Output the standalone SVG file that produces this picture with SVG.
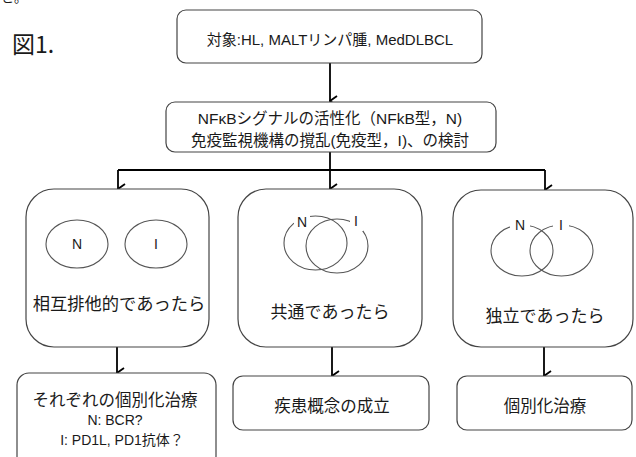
<svg xmlns="http://www.w3.org/2000/svg" width="636" height="457" viewBox="0 0 636 457">
<defs>
<style>
.t{font-family:"Liberation Sans","Noto Sans CJK JP",sans-serif;fill:#1a1a1a;text-anchor:middle}
.j{font-family:"Noto Sans CJK JP",sans-serif;fill:#1a1a1a;text-anchor:middle}
.box{fill:#fff;stroke:#444;stroke-width:1.2}
.el{fill:none;stroke:#555;stroke-width:1.1}
.ln{fill:none;stroke:#000;stroke-width:1.8}
.lb{fill:#fff;stroke:none}
</style>
<marker id="ah" viewBox="0 0 12 12" refX="6" refY="11" markerWidth="12" markerHeight="12" markerUnits="userSpaceOnUse" orient="auto-start-reverse">
<path d="M1,4 L6,11 L11,4" fill="none" stroke="#000" stroke-width="1.8"/>
</marker>
</defs>
<rect width="636" height="457" fill="#fff"/>
<text class="j" x="1" y="2" font-size="13" style="text-anchor:start">と。</text>
<text class="j" x="12" y="53" font-size="23" style="text-anchor:start">図1.</text>

<g id="connectors">
<path class="ln" d="M330,63 V101" marker-end="url(#ah)"/>
<path class="ln" d="M330,152 V170"/>
<path class="ln" d="M118,170 H545"/>
<path class="ln" d="M330,170 V189" marker-end="url(#ah)"/>
<path class="ln" d="M118,170 V189" marker-end="url(#ah)"/>
<path class="ln" d="M545,170 V190" marker-end="url(#ah)"/>
<path class="ln" d="M117,347 V373" marker-end="url(#ah)"/>
<path class="ln" d="M332,347 V376" marker-end="url(#ah)"/>
<path class="ln" d="M544,347 V376" marker-end="url(#ah)"/>
</g>

<g id="target">
<rect class="box" x="177" y="10" width="305" height="53" rx="9"/>
<text class="t" x="330" y="45" font-size="15">対象:HL, MALTリンパ腫, MedDLBCL</text>
</g>

<g id="study">
<rect class="box" x="166" y="102" width="330" height="50" rx="9"/>
<text class="t" x="330" y="124" font-size="15.5">NFκBシグナルの活性化（NFkB型，N)</text>
<text class="t" x="330" y="146" font-size="15.5">免疫監視機構の撹乱(免疫型，I)、の検討</text>
</g>

<g id="exclusive">
<rect class="box" x="26" y="189" width="183" height="158" rx="28"/>
<ellipse class="el" cx="77" cy="244" rx="31" ry="24"/>
<ellipse class="el" cx="156" cy="244" rx="31" ry="24"/>
<text class="t" x="77" y="249" font-size="14">N</text>
<text class="t" x="156" y="249" font-size="14">I</text>
<text class="j" x="119" y="310" font-size="17.3">相互排他的であったら</text>
</g>

<g id="common">
<rect class="box" x="238" y="189" width="184" height="158" rx="28"/>
<ellipse class="el" cx="315.5" cy="243" rx="31.5" ry="27"/>
<ellipse class="el" cx="337" cy="246" rx="31" ry="27"/>
<rect class="lb" x="294" y="213" width="16" height="18"/>
<rect class="lb" x="350" y="212" width="13" height="19"/>
<text class="t" x="302" y="227" font-size="14">N</text>
<text class="t" x="356" y="226" font-size="14">I</text>
<text class="j" x="330" y="318" font-size="17">共通であったら</text>
</g>

<g id="independent">
<rect class="box" x="453" y="190" width="180" height="157" rx="28"/>
<ellipse class="el" cx="522" cy="250.5" rx="31" ry="25.5"/>
<ellipse class="el" cx="561.5" cy="250.5" rx="31.5" ry="25.5"/>
<rect class="lb" x="510" y="215" width="20" height="16"/>
<rect class="lb" x="553" y="215" width="16" height="16"/>
<text class="t" x="520" y="230" font-size="14">N</text>
<text class="t" x="561" y="230" font-size="14">I</text>
<text class="j" x="545" y="322" font-size="17">独立であったら</text>
</g>

<g id="treatment-each">
<rect class="box" x="17" y="373" width="199" height="95" rx="12"/>
<text class="j" x="115" y="406" font-size="16.5">それぞれの個別化治療</text>
<text class="t" x="115" y="425" font-size="14">N: BCR?</text>
<text class="t" x="122" y="445" font-size="14">I: PD1L, PD1抗体？</text>
</g>

<g id="concept">
<rect class="box" x="233" y="376" width="196" height="54" rx="10"/>
<text class="j" x="332" y="412" font-size="16.5">疾患概念の成立</text>
</g>

<g id="treatment">
<rect class="box" x="457" y="376" width="175" height="54" rx="10"/>
<text class="j" x="545" y="412" font-size="16.5">個別化治療</text>
</g>
</svg>
